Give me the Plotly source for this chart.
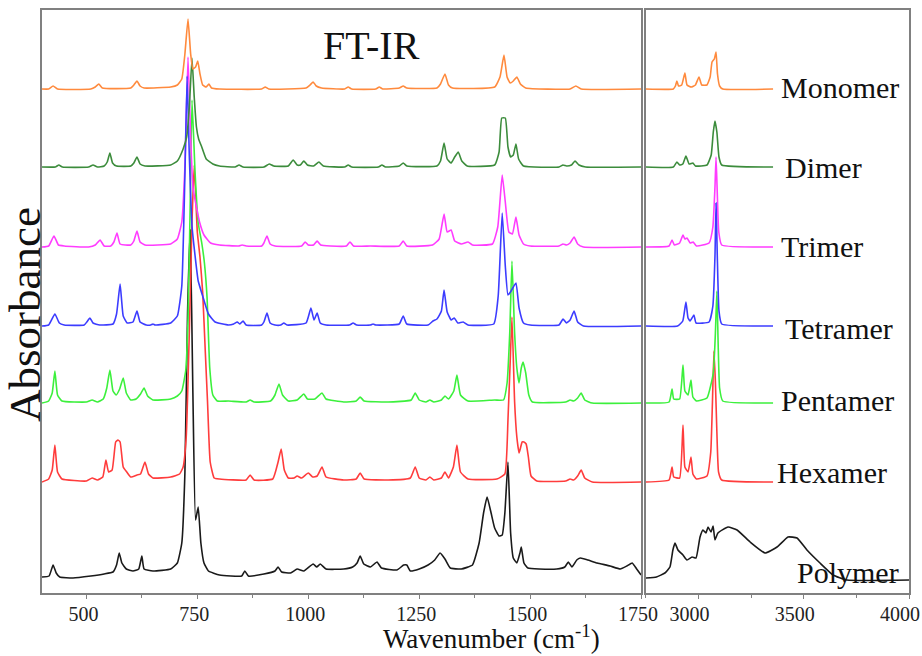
import plotly.graph_objects as go

# ---------------- data (wavenumber in cm-1, absorbance in a.u. above each trace's baseline) -------------
names = ["Monomer", "Dimer", "Trimer", "Tetramer", "Pentamer", "Hexamer", "Polymer"]
colors = ["#ff8a3d", "#3c8c3c", "#ff3cff", "#3c3cff", "#3cf03c", "#ff3c3c", "#1a1a1a"]
offsets = [504, 426, 346, 267, 190, 111, 0]

# fingerprint region 400-1750
monomer_wn = [400, 415, 425, 435, 510, 520, 528, 536, 600, 607, 614, 621, 630, 690, 705, 715, 722, 729, 735, 740, 746, 751, 756, 762, 770, 776, 782, 800, 895, 903, 911, 995, 1004, 1011, 1018, 1030, 1082, 1090, 1098, 1152, 1160, 1168, 1205, 1214, 1222, 1290, 1298, 1308, 1316, 1325, 1420, 1432, 1441, 1448, 1455, 1462, 1470, 1478, 1490, 1590, 1603, 1615, 1750]
monomer_ab = [0, 0, 3, 0, 0, 2, 5, 1, 1, 4, 8, 3, 1, 2, 4, 10, 35, 70, 35, 20, 22, 28, 15, 4, 2, 5, 1, 0, 0, 2, 0, 1, 4, 7, 3, 1, 0, 2, 0, 0, 2, 0, 1, 3, 1, 1, 5, 15, 4, 1, 2, 12, 34, 12, 6, 8, 12, 5, 1, 0, 3, 0, 0]

dimer_wn = [400, 430, 438, 446, 505, 515, 525, 540, 547, 553, 559, 568, 600, 607, 614, 621, 632, 690, 705, 718, 726, 732, 738, 743, 748, 753, 760, 770, 785, 800, 835, 844, 853, 900, 912, 922, 955, 966, 975, 982, 990, 998, 1012, 1024, 1034, 1082, 1090, 1098, 1158, 1166, 1174, 1205, 1214, 1222, 1290, 1298, 1306, 1313, 1322, 1330, 1338, 1346, 1358, 1420, 1430, 1436, 1444, 1450, 1456, 1462, 1468, 1474, 1485, 1565, 1574, 1582, 1593, 1601, 1610, 1625, 1750]
dimer_ab = [0, 0, 2, 0, 0, 2, 0, 1, 5, 14, 4, 1, 1, 4, 10, 3, 1, 2, 6, 18, 30, 60, 109, 70, 40, 28, 20, 8, 3, 1, 0, 2, 0, 0, 3, 1, 1, 7, 2, 2, 6, 2, 1, 5, 1, 0, 2, 0, 0, 2, 0, 1, 4, 1, 1, 6, 24, 8, 4, 10, 15, 6, 1, 2, 15, 49, 49, 20, 10, 12, 23, 8, 1, 0, 2, 1, 2, 6, 2, 0, 0]

trimer_wn = [400, 415, 427, 437, 450, 505, 520, 531, 540, 555, 562, 569, 576, 600, 607, 614, 621, 632, 690, 705, 715, 722, 729, 735, 740, 748, 755, 765, 780, 800, 843, 851, 860, 895, 900, 907, 914, 925, 985, 993, 1000, 1012, 1020, 1028, 1050, 1086, 1094, 1102, 1140, 1205, 1214, 1222, 1280, 1295, 1306, 1313, 1322, 1330, 1345, 1360, 1370, 1415, 1427, 1437, 1444, 1452, 1460, 1468, 1475, 1485, 1500, 1565, 1574, 1582, 1590, 1599, 1607, 1620, 1750]
trimer_ab = [0, 1, 11, 2, 1, 0, 2, 7, 1, 1, 5, 14, 3, 2, 6, 16, 5, 2, 3, 8, 25, 80, 190, 110, 60, 40, 25, 12, 4, 2, 1, 2, 1, 1, 4, 11, 3, 1, 1, 5, 2, 2, 6, 2, 1, 1, 5, 1, 1, 1, 6, 1, 2, 8, 33, 15, 17, 6, 3, 5, 2, 3, 20, 72, 45, 15, 13, 30, 12, 3, 1, 1, 3, 2, 4, 10, 3, 0, 0]

tetramer_wn = [400, 415, 429, 439, 450, 495, 501, 508, 515, 530, 560, 568, 576, 583, 592, 605, 614, 621, 635, 645, 650, 655, 690, 705, 715, 722, 727, 732, 738, 745, 752, 762, 775, 790, 820, 832, 840, 846, 853, 860, 895, 900, 907, 914, 925, 938, 945, 952, 995, 1006, 1013, 1020, 1027, 1040, 1093, 1101, 1109, 1140, 1146, 1152, 1205, 1214, 1222, 1270, 1281, 1290, 1300, 1306, 1313, 1322, 1329, 1337, 1349, 1360, 1418, 1428, 1437, 1444, 1450, 1457, 1468, 1475, 1485, 1500, 1565, 1574, 1582, 1590, 1599, 1607, 1620, 1750]
tetramer_ab = [0, 1, 12, 3, 1, 1, 4, 8, 3, 1, 2, 12, 42, 10, 3, 4, 15, 4, 1, 1, 2, 1, 3, 10, 40, 150, 250, 170, 100, 70, 45, 30, 12, 4, 1, 2, 4, 2, 5, 1, 1, 4, 13, 3, 1, 1, 3, 1, 3, 18, 6, 13, 3, 1, 1, 3, 1, 1, 2, 1, 2, 10, 2, 1, 5, 7, 15, 36, 14, 6, 8, 3, 4, 1, 2, 30, 113, 60, 31, 35, 43, 18, 3, 1, 1, 7, 3, 6, 15, 4, 0, 0]

pentamer_wn = [400, 415, 423, 429, 435, 445, 500, 513, 525, 538, 546, 553, 560, 567, 575, 583, 590, 600, 612, 622, 630, 638, 650, 690, 705, 715, 724, 729, 734, 738, 745, 752, 760, 766, 772, 778, 785, 795, 820, 860, 869, 878, 915, 925, 934, 942, 955, 975, 990, 998, 1015, 1031, 1040, 1080, 1108, 1117, 1126, 1180, 1232, 1241, 1250, 1265, 1274, 1283, 1300, 1308, 1316, 1328, 1335, 1343, 1360, 1420, 1440, 1448, 1454, 1459, 1465, 1470, 1475, 1480, 1484, 1490, 1497, 1505, 1580, 1590, 1598, 1607, 1615, 1623, 1640, 1750]
pentamer_ab = [0, 2, 10, 32, 8, 2, 1, 3, 1, 4, 15, 33, 12, 8, 14, 25, 10, 3, 4, 9, 15, 7, 3, 4, 7, 12, 33, 83, 200, 303, 230, 180, 160, 140, 105, 35, 8, 2, 2, 1, 3, 1, 2, 8, 19, 8, 2, 3, 9, 4, 4, 10, 4, 1, 2, 6, 2, 1, 3, 10, 3, 1, 3, 1, 3, 7, 4, 12, 28, 8, 2, 3, 3, 20, 70, 142, 70, 35, 20, 35, 41, 30, 8, 1, 1, 3, 2, 5, 10, 3, 0, 0]

hexamer_wn = [400, 415, 423, 429, 435, 445, 500, 513, 525, 537, 544, 550, 558, 566, 571, 576, 583, 591, 600, 614, 622, 632, 640, 650, 690, 710, 718, 725, 732, 738, 743, 750, 756, 762, 768, 773, 779, 788, 800, 860, 869, 878, 920, 932, 939, 946, 955, 968, 975, 985, 1000, 1010, 1020, 1031, 1040, 1080, 1108, 1117, 1126, 1180, 1230, 1241, 1250, 1265, 1274, 1283, 1300, 1308, 1316, 1327, 1335, 1343, 1360, 1425, 1443, 1450, 1455, 1459, 1465, 1470, 1475, 1482, 1486, 1491, 1496, 1502, 1515, 1580, 1590, 1598, 1607, 1615, 1623, 1640, 1750]
hexamer_ab = [0, 3, 12, 37, 10, 3, 1, 4, 2, 5, 22, 10, 12, 40, 42, 40, 15, 10, 5, 7, 8, 20, 8, 4, 5, 8, 15, 45, 150, 260, 317, 250, 225, 190, 130, 80, 20, 4, 3, 2, 7, 2, 3, 20, 33, 12, 4, 4, 6, 4, 9, 5, 6, 15, 5, 2, 3, 9, 3, 2, 4, 15, 4, 2, 5, 2, 4, 10, 4, 15, 37, 10, 3, 3, 8, 62, 120, 165, 80, 45, 29, 40, 40, 38, 25, 6, 1, 1, 3, 2, 6, 12, 4, 0, 0]

polymer_wn = [400, 416, 425, 432, 440, 470, 510, 540, 560, 568, 574, 580, 590, 605, 618, 625, 630, 650, 690, 705, 715, 722, 728, 734, 740, 746, 752, 758, 765, 775, 800, 850, 857, 865, 900, 925, 932, 940, 960, 975, 990, 1011, 1019, 1027, 1040, 1080, 1100, 1110, 1117, 1125, 1140, 1155, 1165, 1200, 1215, 1222, 1230, 1250, 1270, 1285, 1297, 1308, 1320, 1345, 1370, 1385, 1395, 1403, 1412, 1420, 1430, 1437, 1443, 1450, 1456, 1462, 1470, 1477, 1480, 1486, 1495, 1520, 1560, 1578, 1586, 1594, 1605, 1613, 1630, 1651, 1680, 1703, 1718, 1730, 1740, 1750]
polymer_ab = [16, 17, 28, 20, 16, 15, 17, 19, 21, 28, 40, 30, 24, 22, 24, 37, 24, 22, 24, 30, 50, 120, 280, 363, 200, 73, 86, 50, 30, 22, 18, 17, 22, 17, 19, 22, 26, 21, 20, 24, 22, 29, 26, 29, 24, 24, 26, 30, 37, 29, 26, 31, 25, 23, 28, 28, 22, 24, 28, 33, 40, 34, 25, 24, 28, 50, 80, 96, 80, 65, 57, 58, 80, 131, 60, 35, 30, 40, 46, 30, 25, 24, 24, 26, 31, 26, 33, 35, 33, 30, 27, 24, 27, 30, 24, 18]

# C-H stretching region 2750-4000
monomer_ch_wn = [2750, 2880, 2890, 2897, 2905, 2920, 2935, 2945, 2965, 2985, 3002, 3015, 3040, 3055, 3064, 3075, 3083, 3090, 3100, 3115, 3354]
monomer_ch_ab = [0, 0, 3, 8, 3, 4, 16, 4, 2, 4, 12, 4, 4, 12, 27, 30, 37, 15, 3, 0, 0]
dimer_ch_wn = [2750, 2880, 2897, 2910, 2925, 2940, 2955, 2973, 2985, 3040, 3060, 3070, 3078, 3087, 3097, 3110, 3354]
dimer_ch_ab = [0, 0, 5, 2, 3, 11, 3, 4, 1, 2, 12, 35, 46, 35, 10, 2, 0]
trimer_ch_wn = [2750, 2860, 2874, 2885, 2910, 2926, 2935, 2945, 2960, 2974, 2990, 3050, 3068, 3078, 3083, 3088, 3096, 3110, 3354]
trimer_ch_ab = [0, 1, 7, 2, 4, 12, 8, 9, 4, 5, 1, 4, 20, 60, 90, 60, 15, 2, 0]
tetramer_ch_wn = [2750, 2900, 2925, 2940, 2950, 2960, 2978, 2988, 3050, 3068, 3078, 3083, 3089, 3097, 3110, 3354]
tetramer_ch_ab = [0, 0, 5, 24, 8, 5, 11, 3, 4, 20, 70, 123, 70, 15, 2, 0]
pentamer_ch_wn = [2750, 2860, 2874, 2882, 2910, 2926, 2935, 2950, 2964, 2973, 2990, 3040, 3070, 3080, 3087, 3093, 3100, 3115, 3354]
pentamer_ch_ab = [0, 1, 14, 4, 4, 38, 12, 8, 23, 6, 2, 5, 30, 70, 112, 60, 15, 2, 0]
hexamer_ch_wn = [2750, 2860, 2874, 2882, 2910, 2926, 2935, 2950, 2964, 2973, 2990, 3040, 3058, 3066, 3073, 3080, 3087, 3095, 3110, 3354]
hexamer_ch_ab = [0, 2, 15, 5, 4, 57, 15, 10, 25, 8, 3, 6, 30, 80, 131, 100, 50, 10, 2, 0]
polymer_ch_wn = [2750, 2800, 2840, 2864, 2878, 2888, 2902, 2926, 2945, 2969, 2988, 3007, 3021, 3035, 3045, 3059, 3069, 3078, 3092, 3140, 3183, 3245, 3316, 3373, 3425, 3468, 3515, 3577, 3639, 3705, 4000]
polymer_ch_ab = [15, 16, 20, 26, 43, 50, 43, 38, 33, 36, 35, 56, 63, 60, 66, 61, 67, 53, 60, 66, 63, 51, 40, 46, 56, 55, 43, 30, 18, 13, 13]

fp_x = [monomer_wn, dimer_wn, trimer_wn, tetramer_wn, pentamer_wn, hexamer_wn, polymer_wn]
fp_y = [monomer_ab, dimer_ab, trimer_ab, tetramer_ab, pentamer_ab, hexamer_ab, polymer_ab]
ch_x = [monomer_ch_wn, dimer_ch_wn, trimer_ch_wn, tetramer_ch_wn, pentamer_ch_wn, hexamer_ch_wn, polymer_ch_wn]
ch_y = [monomer_ch_ab, dimer_ch_ab, trimer_ch_ab, tetramer_ch_ab, pentamer_ch_ab, hexamer_ch_ab, polymer_ch_ab]

fp_ticks = [500, 750, 1000, 1250, 1500, 1750]
ch_ticks = [3000, 3500, 4000]

# ---------------- figure -------------
FONT = "Liberation Serif, Times New Roman, serif"
fig = go.Figure()
draw_order = [6, 5, 4, 2, 3, 1, 0]
for i in draw_order:
    off = offsets[i]
    fig.add_trace(go.Scatter(x=fp_x[i], y=[v + off for v in fp_y[i]], mode="lines",
                             line=dict(color=colors[i], width=1.6, shape="spline", smoothing=0.4),
                             xaxis="x", yaxis="y", showlegend=False, name=names[i]))
    fig.add_trace(go.Scatter(x=ch_x[i], y=[v + off for v in ch_y[i]], mode="lines",
                             line=dict(color=colors[i], width=1.6, shape="spline", smoothing=0.4),
                             xaxis="x2", yaxis="y2", showlegend=False, name=names[i]))

# labels on the right panel
label_x = [3380, 3400, 3380, 3400, 3380, 3365, 3460]
label_dy = [2, 0, 1, -2, 3, 10, 21]
for i, n in enumerate(names):
    fig.add_annotation(x=label_x[i], y=offsets[i] + label_dy[i], xref="x2", yref="y2", text=n,
                       showarrow=False, xanchor="left", yanchor="middle",
                       font=dict(family=FONT, size=30, color="#111"))

frame = dict(showline=True, linecolor="#808080", linewidth=2, mirror=True)
fig.update_layout(
    width=922, height=656, margin=dict(l=42, r=13, t=10, b=63, autoexpand=False),
    paper_bgcolor="white", plot_bgcolor="white",
    xaxis=dict(domain=[0, 0.691], range=[400, 1750], tickvals=fp_ticks, ticks="outside", ticklen=4,
               tickcolor="#808080", tickfont=dict(family=FONT, size=20, color="#222"),
               minor=dict(dtick=125, tick0=375, ticks="outside", ticklen=3, tickcolor="#808080"),
               ticklabelshift=-3, ticklabelstandoff=-2, ticklabeloverflow="allow",
               showgrid=False, zeroline=False, anchor="y", automargin=False, **frame),
    xaxis2=dict(domain=[0.6966, 1], range=[2750, 4000], tickvals=ch_ticks, ticks="outside", ticklen=4,
                tickcolor="#808080", tickfont=dict(family=FONT, size=20, color="#222"),
                minor=dict(dtick=250, tick0=2750, ticks="outside", ticklen=3, tickcolor="#808080"),
                ticklabelshift=-9, ticklabelstandoff=-2, ticklabeloverflow="allow",
                showgrid=False, zeroline=False, anchor="y2", automargin=False, **frame),
    yaxis=dict(range=[0, 583], showticklabels=False, ticks="", showgrid=False, zeroline=False,
               anchor="x", automargin=False, **frame),
    yaxis2=dict(range=[0, 583], showticklabels=False, ticks="", showgrid=False, zeroline=False,
                anchor="x2", automargin=False, **frame),
)

fig.add_annotation(x=(371 - 42) / 867, y=(593 - 45) / 583, xref="paper", yref="paper", text="FT-IR",
                   showarrow=False, xanchor="center", yanchor="middle",
                   font=dict(family=FONT, size=40, color="#111"))
fig.add_annotation(x=(491 - 42) / 867, y=(593 - 656) / 583, xref="paper", yref="paper",
                   text="Wavenumber (cm<sup>-1</sup>)", showarrow=False, xanchor="center", yanchor="bottom",
                   font=dict(family=FONT, size=27, color="#111"))
fig.add_annotation(x=(25 - 42) / 867, y=(593 - 315) / 583, xref="paper", yref="paper",
                   text="Absorbance", textangle=-90, showarrow=False, xanchor="center", yanchor="middle",
                   font=dict(family=FONT, size=45, color="#111"))

fig.write_html("out.html", config={"displayModeBar": False},
               post_script="document.body.style.margin='0';document.body.style.overflow='hidden';")
